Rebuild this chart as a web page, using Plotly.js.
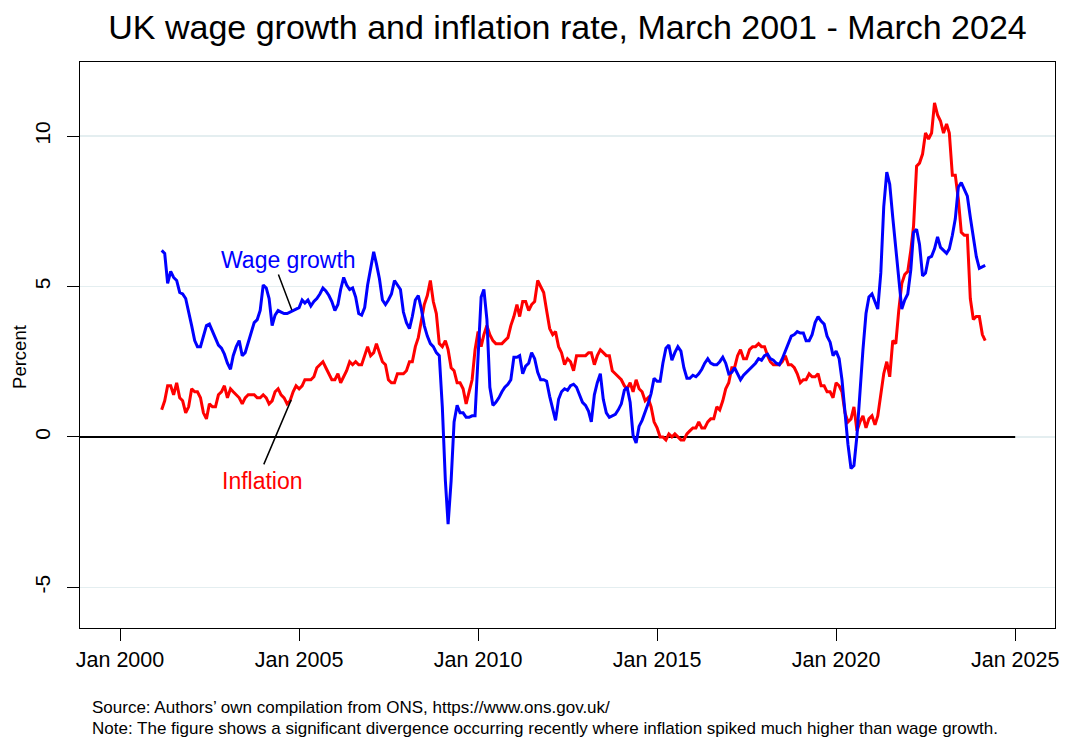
<!DOCTYPE html>
<html>
<head>
<meta charset="utf-8">
<script src="https://cdn.plot.ly/plotly-3.0.1.min.js"></script>
<style>
  html, body { margin: 0; padding: 0; background: #ffffff; }
  #chart { width: 1065px; height: 738px; }
</style>
</head>
<body>
<div id="chart"></div>
<script>
// Monthly series, March 2001 - March 2024
const startYear = 2001;
const startMonth = 3; // March

// Wage growth (%)
const wageGrowth = [
  6.2, 6.1, 5.1, 5.5, 5.3, 5.2, 4.8, 4.75, 4.6, 4.2,
  3.7, 3.2, 3.0, 3.0, 3.35, 3.7, 3.75, 3.5, 3.3, 3.05,
  2.95, 2.75, 2.45, 2.25, 2.7, 3.0, 3.2, 2.7, 2.8, 3.15,
  3.5, 3.8, 3.9, 4.2, 5.05, 4.95, 4.6, 3.7, 4.05, 4.2,
  4.15, 4.1, 4.1, 4.15, 4.2, 4.25, 4.3, 4.55, 4.45, 4.55,
  4.35, 4.5, 4.6, 4.75, 4.95, 4.85, 4.7, 4.5, 4.2, 4.4,
  4.9, 5.3, 5.05, 4.9, 4.95, 4.65, 4.1, 4.05, 4.3,
  5.05, 5.6, 6.15, 5.75, 5.25, 4.55, 4.4, 4.55, 4.75, 5.2,
  5.05, 4.9, 4.15, 3.8, 3.6, 4.0, 4.55, 4.7, 4.25, 3.7,
  3.35, 3.1, 3.0, 2.8, 2.7, 1.0, -1.45, -2.9, -1.45, 0.5,
  1.05, 0.8, 0.8, 0.65, 0.65, 0.7, 0.7, 2.7, 4.65, 4.9,
  3.9, 1.65, 1.05, 1.15, 1.3, 1.5, 1.65, 1.75, 1.9, 2.65,
  2.65, 2.7, 2.1, 2.35, 2.45, 2.8, 2.6, 2.15, 1.9, 1.9,
  1.85, 1.35, 0.9, 0.55, 1.25, 1.5, 1.6, 1.55, 1.7,
  1.75, 1.65, 1.4, 1.15, 1.05, 0.85, 0.5, 1.4, 1.8, 2.1,
  1.25, 0.8, 0.65, 0.7, 0.75, 0.9, 1.1, 1.55, 1.65, 1.15,
  0.05, -0.2, 0.35, 0.55, 0.8, 1.1, 1.45, 1.95, 1.85, 1.85,
  2.45, 2.95, 3.05, 2.55, 2.8, 3.0, 2.85, 2.3, 1.95, 1.95,
  2.05, 2.0, 2.1, 2.25, 2.45, 2.6, 2.45, 2.4, 2.4, 2.5,
  2.65, 2.45, 2.1, 2.15, 2.3, 2.1, 1.9, 2.05, 2.15, 2.25,
  2.35, 2.45, 2.6, 2.55, 2.7, 2.75, 2.6, 2.55,
  2.45, 2.4, 2.6, 2.85, 3.1, 3.35, 3.4, 3.5, 3.45, 3.45,
  3.2, 3.2, 3.4, 3.8, 4.0, 3.85, 3.75, 3.35, 3.15, 2.7,
  2.85, 2.6, 1.9, 0.8, -0.25, -1.05, -0.95, 0.05, 1.55, 2.9,
  4.1, 4.65, 4.75, 4.45, 4.25, 5.45, 7.65, 8.8, 8.4, 7.3,
  6.2, 5.2, 4.25, 4.55, 4.75, 5.55, 6.8, 6.9, 6.4, 5.35,
  5.45, 5.95, 6.0, 6.25, 6.65, 6.3, 6.2, 6.1, 6.25, 6.7,
  7.25, 8.3, 8.45, 8.2, 8.0, 7.3, 6.7, 6.0, 5.6, 5.65, 5.7
];

// Inflation rate (%)
const inflation = [
  0.9, 1.2, 1.7, 1.7, 1.4, 1.8, 1.3, 1.2, 0.8, 1.0,
  1.6, 1.5, 1.5, 1.3, 0.8, 0.6, 1.1, 1.0, 1.0, 1.4, 1.5, 1.7,
  1.3, 1.6, 1.5, 1.4, 1.3, 1.1, 1.3, 1.4, 1.4, 1.4, 1.3, 1.3,
  1.4, 1.3, 1.1, 1.2, 1.5, 1.6, 1.4, 1.3, 1.1, 1.2, 1.5, 1.7,
  1.6, 1.7, 1.9, 1.9, 1.9, 2.0, 2.3, 2.4, 2.5, 2.3, 2.1, 1.9,
  1.9, 2.1, 1.8, 2.0, 2.2, 2.5, 2.4, 2.5, 2.4, 2.4, 2.7, 3.0,
  2.7, 2.8, 3.1, 2.8, 2.5, 2.4, 1.9, 1.8, 1.8, 2.1, 2.1, 2.1,
  2.2, 2.5, 2.5, 3.0, 3.3, 3.8, 4.4, 4.7, 5.2, 4.5, 4.1, 3.1,
  3.0, 3.2, 2.9, 2.3, 2.2, 1.8, 1.8, 1.6, 1.1, 1.5, 1.9, 2.9,
  3.5, 3.0, 3.4, 3.7, 3.4, 3.2, 3.1, 3.1, 3.1, 3.2, 3.3, 3.7,
  4.0, 4.4, 4.0, 4.5, 4.5, 4.2, 4.4, 4.5, 5.2, 5.0, 4.8, 4.2,
  3.6, 3.4, 3.5, 3.0, 2.8, 2.4, 2.6, 2.5, 2.2, 2.7, 2.7, 2.7,
  2.7, 2.8, 2.8, 2.4, 2.7, 2.9, 2.8, 2.7, 2.7, 2.2, 2.1, 2.0,
  1.9, 1.7, 1.6, 1.8, 1.5, 1.9, 1.6, 1.5, 1.2, 1.3, 1.0, 0.5,
  0.3, 0.0, 0.0, -0.1, 0.1, 0.0, 0.1, 0.0, -0.1, -0.1, 0.1, 0.2,
  0.3, 0.3, 0.5, 0.3, 0.3, 0.5, 0.6, 0.6, 1.0, 0.9, 1.2, 1.6,
  1.8, 2.3, 2.3, 2.7, 2.9, 2.6, 2.6, 2.9, 3.0, 3.0, 3.1, 3.0,
  3.0, 2.7, 2.5, 2.4, 2.4, 2.4, 2.5, 2.7, 2.4, 2.4, 2.3, 2.1,
  1.8, 1.9, 1.9, 2.1, 2.0, 2.0, 2.1, 1.7, 1.7, 1.5, 1.5, 1.3,
  1.8, 1.7, 1.5, 0.8, 0.5, 0.6, 1.0, 0.2, 0.5, 0.7, 0.3, 0.6,
  0.7, 0.4, 0.7, 1.5, 2.1, 2.5, 2.0, 3.2, 3.1, 4.2, 5.1, 5.4,
  5.5, 6.2, 7.0, 9.0, 9.1, 9.4, 10.1, 9.9, 10.1, 11.1, 10.7, 10.5,
  10.1, 10.4, 10.1, 8.7, 8.7, 7.9, 6.8, 6.7, 6.7, 4.6, 3.9, 4.0,
  4.0, 3.4, 3.2
];

// Axis ticks
const xTickVals = ['2000-01-01', '2005-01-01', '2010-01-01', '2015-01-01', '2020-01-01', '2025-01-01'];
const xTickText = ['Jan 2000', 'Jan 2005', 'Jan 2010', 'Jan 2015', 'Jan 2020', 'Jan 2025'];
const yTickVals = [-5, 0, 5, 10];
const yTickText = ['-5', '0', '5', '10'];

// Month dates
function monthDates(n) {
  const out = [];
  for (let i = 0; i < n; i++) {
    const k = (startMonth - 1) + i;
    const y = startYear + Math.floor(k / 12);
    const m = (k % 12) + 1;
    out.push(y + '-' + String(m).padStart(2, '0') + '-01');
  }
  return out;
}
const dates = monthDates(wageGrowth.length);

const FONT = 'Liberation Sans, Arial, Helvetica, sans-serif';

const traces = [
  {
    x: dates, y: inflation, type: 'scatter', mode: 'lines', name: 'Inflation',
    line: { color: '#ff0000', width: 3 }, hoverinfo: 'x+y'
  },
  {
    x: dates, y: wageGrowth, type: 'scatter', mode: 'lines', name: 'Wage growth',
    line: { color: '#0000ff', width: 3 }, hoverinfo: 'x+y'
  }
];

const layout = {
  width: 1065, height: 738,
  margin: { l: 80, r: 10, t: 62, b: 110 },
  paper_bgcolor: '#ffffff', plot_bgcolor: '#ffffff',
  showlegend: false,
  font: { family: FONT, color: '#000000', size: 21 },
  title: {
    text: 'UK wage growth and inflation rate, March 2001 - March 2024',
    font: { family: FONT, size: 34, color: '#000000' },
    x: 0.5, xref: 'paper', xanchor: 'center',
    y: 0.963, yref: 'container', yanchor: 'middle'
  },
  xaxis: {
    type: 'date',
    range: ['1998-11-19', '2026-02-11'],
    tickvals: xTickVals, ticktext: xTickText,
    ticks: 'outside', ticklen: 12, tickwidth: 1, tickcolor: '#000000',
    showline: true, mirror: true, linecolor: '#000000', linewidth: 1,
    showgrid: false, zeroline: false,
    tickfont: { family: FONT, size: 21.5, color: '#000000' }
  },
  yaxis: {
    range: [-6.35, 12.46],
    tickvals: yTickVals, ticktext: yTickText, tickangle: -90,
    ticks: 'outside', ticklen: 12, tickwidth: 1, tickcolor: '#000000',
    ticklabelstandoff: 9,
    showline: true, mirror: true, linecolor: '#000000', linewidth: 1,
    showgrid: true, gridcolor: '#e4eef0', gridwidth: 1.5,
    zeroline: false,
    tickfont: { family: FONT, size: 21, color: '#000000' }
  },
  shapes: [
    {
      type: 'line', xref: 'x', yref: 'y',
      x0: '1998-11-19', x1: '2025-01-01', y0: 0, y1: 0,
      line: { color: '#000000', width: 2 }, layer: 'between'
    }
  ],
  annotations: [
    {
      text: 'Percent', textangle: -90, showarrow: false,
      xref: 'paper', yref: 'paper', x: -0.0615, y: 0.479,
      xanchor: 'center', yanchor: 'middle',
      font: { family: FONT, size: 18.5, color: '#000000' }
    },
    {
      text: 'Wage growth', showarrow: false,
      xref: 'x', yref: 'y', x: '2004-09-10', y: 5.88,
      xanchor: 'center', yanchor: 'middle',
      font: { family: FONT, size: 23, color: '#0000ff' }
    },
    {
      text: '', showarrow: true, arrowhead: 0, arrowwidth: 1.5, arrowcolor: '#000000',
      xref: 'x', yref: 'y', x: '2004-10-19', y: 4.22, ax: -14, ay: -37
    },
    {
      text: 'Inflation', showarrow: false,
      xref: 'x', yref: 'y', x: '2003-12-20', y: -1.46,
      xanchor: 'center', yanchor: 'middle',
      font: { family: FONT, size: 23, color: '#ff0000' }
    },
    {
      text: '', showarrow: true, arrowhead: 0, arrowwidth: 1.5, arrowcolor: '#000000',
      xref: 'x', yref: 'y', x: '2004-10-12', y: 1.23, ax: -28, ay: 66
    },
    {
      text: "Source: Authors\u2019 own compilation from ONS, https://www.ons.gov.uk/",
      showarrow: false, xref: 'paper', yref: 'paper', x: 0.0103, y: -0.1396,
      xanchor: 'left', yanchor: 'middle', align: 'left',
      font: { family: FONT, size: 17, color: '#000000' }
    },
    {
      text: 'Note: The figure shows a significant divergence occurring recently where inflation spiked much higher than wage growth.',
      showarrow: false, xref: 'paper', yref: 'paper', x: 0.0103, y: -0.178,
      xanchor: 'left', yanchor: 'middle', align: 'left',
      font: { family: FONT, size: 17, color: '#000000' }
    }
  ]
};

Plotly.newPlot('chart', traces, layout, { displayModeBar: false, staticPlot: true });
</script>
</body>
</html>
